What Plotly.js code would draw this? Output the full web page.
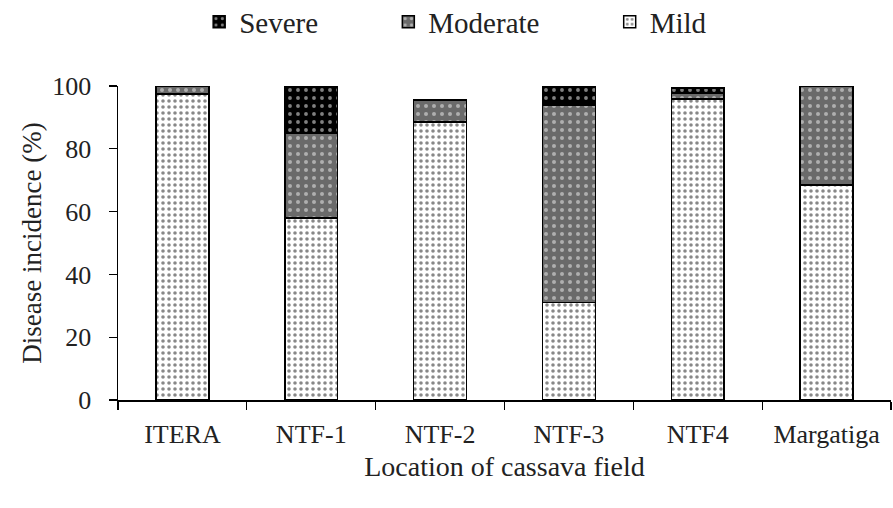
<!DOCTYPE html>
<html>
<head>
<meta charset="utf-8">
<script src="https://cdn.plot.ly/plotly-3.0.1.min.js"></script>
<style>html,body{margin:0;padding:0;background:#fff;}#chart{width:893px;height:508px;}</style>
</head>
<body>
<div id="chart"></div>
<script>
const categories = ["ITERA", "NTF-1", "NTF-2", "NTF-3", "NTF4", "Margatiga"];
const mild = [97.5, 58, 88.5, 31, 95.8, 68.5];
const moderate = [2.5, 27, 7, 63, 1.9, 31.5];
const severe = [0, 15, 0, 6, 1.6, 0];
const seriesNames = ["Mild", "Moderate", "Severe"];

const font = '"Liberation Serif", "Times New Roman", Times, serif';
const txt = "#222";
const pad = "\u00a0".repeat(9);
const common = {type: "bar", x: categories, width: 0.41};
const data = [
  Object.assign({}, common, {
    name: seriesNames[0] + pad, y: mild,
    marker: {color: "#ffffff", line: {color: "#000", width: 1.5},
      pattern: {shape: ".", fillmode: "overlay", bgcolor: "#ffffff", fgcolor: "#111", size: 6, solidity: 0.28}}
  }),
  Object.assign({}, common, {
    name: seriesNames[1] + pad, y: moderate,
    marker: {color: "#6a6a6a", line: {color: "#000", width: 1.5},
      pattern: {shape: ".", fillmode: "overlay", bgcolor: "#6a6a6a", fgcolor: "#f4f4f4", size: 8, solidity: 0.2}}
  }),
  Object.assign({}, common, {
    name: seriesNames[2] + pad, y: severe,
    marker: {color: "#000000", line: {color: "#000", width: 1.5},
      pattern: {shape: ".", fillmode: "overlay", bgcolor: "#000000", fgcolor: "#ffffff", size: 8, solidity: 0.18}}
  })
];

const layout = {
  width: 893, height: 508,
  margin: {l: 118, r: 2, t: 86, b: 108, autoexpand: false},
  barmode: "stack",
  paper_bgcolor: "#fff", plot_bgcolor: "#fff",
  font: {family: font, size: 26, color: txt},
  showlegend: true,
  legend: {orientation: "h", x: 0.105, xanchor: "left", y: 1.204, yanchor: "middle",
    traceorder: "reversed", itemwidth: 30,
    font: {family: font, size: 29, color: txt}},
  xaxis: {
    showline: true, linecolor: "#000", linewidth: 1.5,
    ticks: "outside", tickson: "boundaries", ticklen: 8, tickcolor: "#000", tickwidth: 1.3,
    ticklabelstandoff: 10,
    tickfont: {family: font, size: 26, color: txt},
    showgrid: false, zeroline: false,
    title: {text: "Location of cassava field", font: {family: font, size: 28, color: txt}, standoff: 8}
  },
  yaxis: {
    range: [0, 100], dtick: 20, showline: true, linecolor: "#000", linewidth: 1.5,
    ticks: "outside", ticklen: 8, tickcolor: "#000", tickwidth: 1.3,
    ticklabelstandoff: 12,
    tickfont: {family: font, size: 26, color: txt},
    showgrid: false, zeroline: false,
    title: {text: "Disease incidence (%)", font: {family: font, size: 27, color: txt}, standoff: 3}
  }
};
Plotly.newPlot("chart", data, layout, {displayModeBar: false, staticPlot: true});
</script>
</body>
</html>
